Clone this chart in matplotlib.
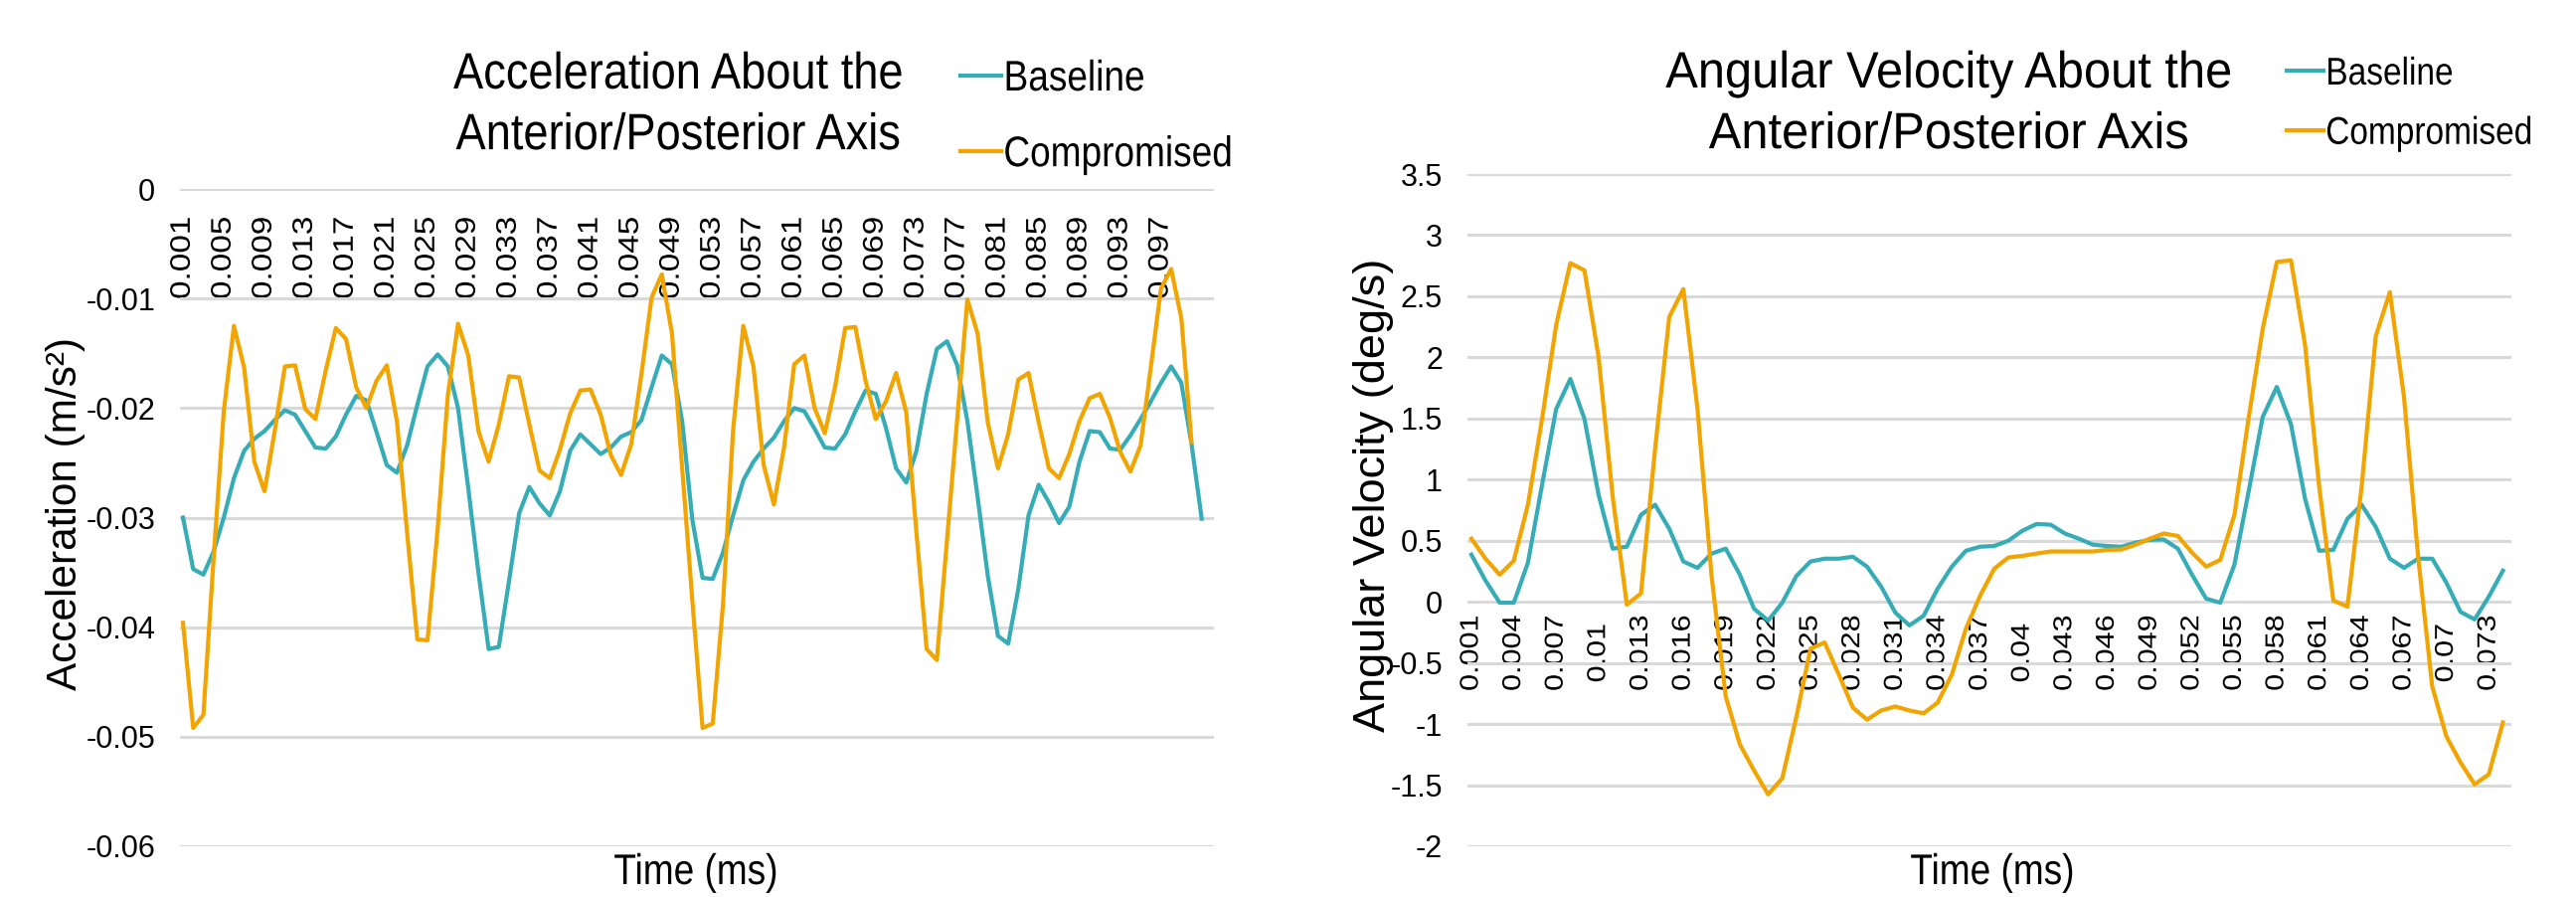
import matplotlib
matplotlib.use("Agg")
import matplotlib.pyplot as plt
from matplotlib import font_manager
from matplotlib.patheffects import AbstractPathEffect
from matplotlib.transforms import Affine2D

W, H = 2591, 902

# ---- data ----
accel_baseline = [
    -0.0300, -0.0347, -0.0352, -0.0331, -0.0300, -0.0264, -0.0239, -0.0228, -0.0221, -0.0211,
    -0.0202, -0.0206, -0.0221, -0.0236, -0.0237, -0.0226, -0.0206, -0.0189, -0.0193, -0.0222,
    -0.0252, -0.0259, -0.0234, -0.0197, -0.0162, -0.0151, -0.0162, -0.0200, -0.0273, -0.0350,
    -0.0420, -0.0418, -0.0358, -0.0296, -0.0272, -0.0287, -0.0298, -0.0276, -0.0239, -0.0224,
    -0.0233, -0.0242, -0.0236, -0.0226, -0.0222, -0.0211, -0.0181, -0.0152, -0.0160, -0.0212,
    -0.0302, -0.0355, -0.0356, -0.0332, -0.0298, -0.0266, -0.0249, -0.0237, -0.0227, -0.0212,
    -0.0200, -0.0203, -0.0219, -0.0236, -0.0237, -0.0224, -0.0203, -0.0184, -0.0187, -0.0218,
    -0.0255, -0.0268, -0.0239, -0.0187, -0.0146, -0.0139, -0.0161, -0.0212, -0.0281, -0.0353,
    -0.0408, -0.0415, -0.0365, -0.0298, -0.0270, -0.0286, -0.0305, -0.0290, -0.0249, -0.0221,
    -0.0222, -0.0237, -0.0238, -0.0225, -0.0210, -0.0194, -0.0177, -0.0162, -0.0177, -0.0233,
    -0.0301,
]
accel_compromised = [
    -0.0396, -0.0492, -0.0480, -0.0338, -0.0203, -0.0125, -0.0163, -0.0249, -0.0276, -0.0221,
    -0.0162, -0.0161, -0.0201, -0.0210, -0.0166, -0.0127, -0.0137, -0.0181, -0.0200, -0.0175,
    -0.0161, -0.0212, -0.0314, -0.0411, -0.0412, -0.0310, -0.0188, -0.0123, -0.0152, -0.0221,
    -0.0249, -0.0215, -0.0171, -0.0172, -0.0215, -0.0257, -0.0264, -0.0238, -0.0205, -0.0184,
    -0.0183, -0.0206, -0.0243, -0.0261, -0.0233, -0.0169, -0.0099, -0.0078, -0.0132, -0.0255,
    -0.0376, -0.0492, -0.0488, -0.0380, -0.0220, -0.0125, -0.0162, -0.0252, -0.0288, -0.0236,
    -0.0160, -0.0152, -0.0200, -0.0223, -0.0181, -0.0127, -0.0126, -0.0175, -0.0210, -0.0194,
    -0.0168, -0.0204, -0.0314, -0.0420, -0.0430, -0.0320, -0.0210, -0.0101, -0.0132, -0.0213,
    -0.0255, -0.0224, -0.0174, -0.0168, -0.0213, -0.0255, -0.0264, -0.0242, -0.0212, -0.0191,
    -0.0187, -0.0209, -0.0240, -0.0258, -0.0234, -0.0163, -0.0091, -0.0073, -0.0118, -0.0231,
]
accel_tick_labels = [
    "0.001", "0.005", "0.009", "0.013", "0.017", "0.021", "0.025", "0.029", "0.033",
    "0.037", "0.041", "0.045", "0.049", "0.053", "0.057", "0.061", "0.065", "0.069",
    "0.073", "0.077", "0.081", "0.085", "0.089", "0.093", "0.097",
]
accel_yticks = [0, -0.01, -0.02, -0.03, -0.04, -0.05, -0.06]

angvel_baseline = [
    0.386, 0.173, -0.007, -0.007, 0.320, 0.957, 1.578, 1.824, 1.497, 0.876,
    0.435, 0.451, 0.712, 0.794, 0.598, 0.330, 0.278, 0.395, 0.435, 0.222,
    -0.056, -0.154, -0.007, 0.212, 0.330, 0.353, 0.353, 0.369, 0.288, 0.124,
    -0.088, -0.193, -0.114, 0.108, 0.288, 0.418, 0.451, 0.457, 0.500, 0.582,
    0.637, 0.631, 0.559, 0.516, 0.467, 0.457, 0.451, 0.484, 0.507, 0.510,
    0.435, 0.222, 0.026, -0.007, 0.304, 0.900, 1.513, 1.758, 1.454, 0.843,
    0.418, 0.425, 0.680, 0.794, 0.614, 0.353, 0.278, 0.353, 0.353, 0.157,
    -0.082, -0.144, 0.042, 0.255,
]
angvel_compromised = [
    0.516, 0.353, 0.222, 0.337, 0.794, 1.497, 2.265, 2.771, 2.712, 2.003,
    0.859, -0.023, 0.069, 1.252, 2.330, 2.559, 1.578, 0.206, -0.775, -1.167,
    -1.379, -1.575, -1.444, -0.940, -0.382, -0.333, -0.595, -0.866, -0.964, -0.889,
    -0.856, -0.889, -0.912, -0.824, -0.595, -0.219, 0.050, 0.271, 0.363, 0.376,
    0.395, 0.412, 0.412, 0.412, 0.412, 0.425, 0.428, 0.467, 0.516, 0.559,
    0.539, 0.402, 0.288, 0.343, 0.712, 1.500, 2.232, 2.781, 2.794, 2.101,
    0.941, 0.010, -0.039, 0.941, 2.173, 2.533, 1.676, 0.369, -0.693, -1.101,
    -1.314, -1.493, -1.412, -0.987,
]
angvel_tick_labels = [
    "0.001", "0.004", "0.007", "0.01", "0.013", "0.016", "0.019", "0.022", "0.025",
    "0.028", "0.031", "0.034", "0.037", "0.04", "0.043", "0.046", "0.049", "0.052",
    "0.055", "0.058", "0.061", "0.064", "0.067", "0.07", "0.073",
]
angvel_yticks = [3.5, 3, 2.5, 2, 1.5, 1, 0.5, 0, -0.5, -1, -1.5, -2]

TEAL = "#36ACB6"
ORANGE = "#F2A400"
GRID = "#D9D9D9"

installed = {f.name for f in font_manager.fontManager.ttflist}
FONT = "Liberation Sans" if "Liberation Sans" in installed else "DejaVu Sans"


class SqueezeX(AbstractPathEffect):
    """Narrow text horizontally, standing in for the condensed face of the original."""

    def __init__(self, sx, anchor="center"):
        super().__init__()
        self.sx = sx
        self.anchor = anchor

    def draw_path(self, renderer, gc, tpath, affine, rgbFace=None):
        ext = tpath.get_extents(affine)
        cx = {"left": ext.x0, "center": (ext.x0 + ext.x1) / 2, "right": ext.x1}[self.anchor]
        squeeze = Affine2D().translate(-cx, 0).scale(self.sx, 1).translate(cx, 0)
        renderer.draw_path(gc, tpath, affine + squeeze, rgbFace)


def px_rect(box):
    x0, y0, x1, y1 = box
    return [x0 / W, 1 - y1 / H, (x1 - x0) / W, (y1 - y0) / H]


def general_fmt(v):
    s = f"{v:g}"
    return "0" if s == "-0" else s


def draw_panel(ax, box, baseline, compromised, ylim, yticks, xlim, tick_step, tick_labels, p):
    x0, y0, x1, y1 = box
    ax.plot(range(len(baseline)), baseline, color=TEAL, lw=3.0, label="Baseline")
    ax.plot(range(len(compromised)), compromised, color=ORANGE, lw=3.0, label="Compromised")

    ax.set_xlim(*xlim)
    ax.set_ylim(*ylim)
    ax.set_yticks(yticks, [general_fmt(v) for v in yticks])
    ax.yaxis.grid(True, color=GRID, lw=2.2)
    ax.set_axisbelow(True)
    for s in ax.spines.values():
        s.set_visible(False)
    # category labels sit on the value-axis zero line, like Excel
    ax.spines["bottom"].set_position(("data", 0))
    ax.set_xticks(range(0, tick_step * len(tick_labels), tick_step), tick_labels)
    ax.tick_params(axis="x", length=0, pad=p["xpad"], labelrotation=90, labelsize=p["xsize"])
    for lab in ax.get_xticklabels():
        lab.set_va("center")
        lab.set_family(FONT)
        lab.set_path_effects([SqueezeX(0.85)])
    ax.tick_params(axis="y", length=0, pad=18, labelsize=22)
    for lab in ax.get_yticklabels():
        lab.set_family(FONT)

    ax.set_xlabel("Time (ms)", fontsize=31, family=FONT, va="center")
    ax.xaxis.set_label_coords((p["xlabel_x"] - x0) / (x1 - x0), (y1 - 878) / (y1 - y0))
    ax.xaxis.label.set_path_effects([SqueezeX(0.86)])
    ax.set_ylabel(p["ylabel"], fontsize=p["ylabel_size"], family=FONT, va="center")
    ax.yaxis.set_label_coords((p["ylabel_xy"][0] - x0) / (x1 - x0),
                              (y1 - p["ylabel_xy"][1]) / (y1 - y0))

    fig.text(p["title_xy"][0] / W, 1 - p["title_xy"][1] / H, p["title"], ha="center",
             va="center", fontsize=37, family=FONT, linespacing=1.32,
             path_effects=[SqueezeX(p["title_sx"])])
    leg = ax.legend(loc="upper left",
                    bbox_to_anchor=(p["legend_xy"][0] / W, 1 - p["legend_xy"][1] / H),
                    bbox_transform=fig.transFigure, frameon=False,
                    prop={"family": FONT, "size": p["legend_size"]},
                    handlelength=0.95, handletextpad=0.05,
                    labelspacing=p["legend_spacing"], borderpad=0, borderaxespad=0)
    for t in leg.get_texts():
        t.set_path_effects([SqueezeX(p["legend_sx"], anchor="left")])


fig = plt.figure(figsize=(W / 100, H / 100), dpi=100)

left_box = (181, 190, 1221, 851)
right_box = (1476, 175, 2526, 851)

ax1 = fig.add_axes(px_rect(left_box))
draw_panel(ax1, left_box, accel_baseline, accel_compromised, (-0.06, 0), accel_yticks,
           (-0.3, 101.2), 4, accel_tick_labels,
           dict(xpad=50, xsize=24, xlabel_x=700,
                ylabel="Acceleration (m/s²)", ylabel_size=30.5, ylabel_xy=(66, 516),
                title="Acceleration About the\nAnterior/Posterior Axis", title_xy=(682, 106),
                title_sx=0.88, legend_xy=(966, 60), legend_size=31, legend_spacing=0.84,
                legend_sx=0.86))

ax2 = fig.add_axes(px_rect(right_box))
draw_panel(ax2, right_box, angvel_baseline, angvel_compromised, (-2, 3.5), angvel_yticks,
           (-0.28, 73.6), 3, angvel_tick_labels,
           dict(xpad=37, xsize=22, xlabel_x=2004,
                ylabel="Angular Velocity (deg/s)", ylabel_size=32.5, ylabel_xy=(1381, 498),
                title="Angular Velocity About the\nAnterior/Posterior Axis", title_xy=(1960, 105),
                title_sx=0.95, legend_xy=(2300, 57), legend_size=28, legend_spacing=0.61,
                legend_sx=0.86))

fig.savefig("out.png", dpi=100)
